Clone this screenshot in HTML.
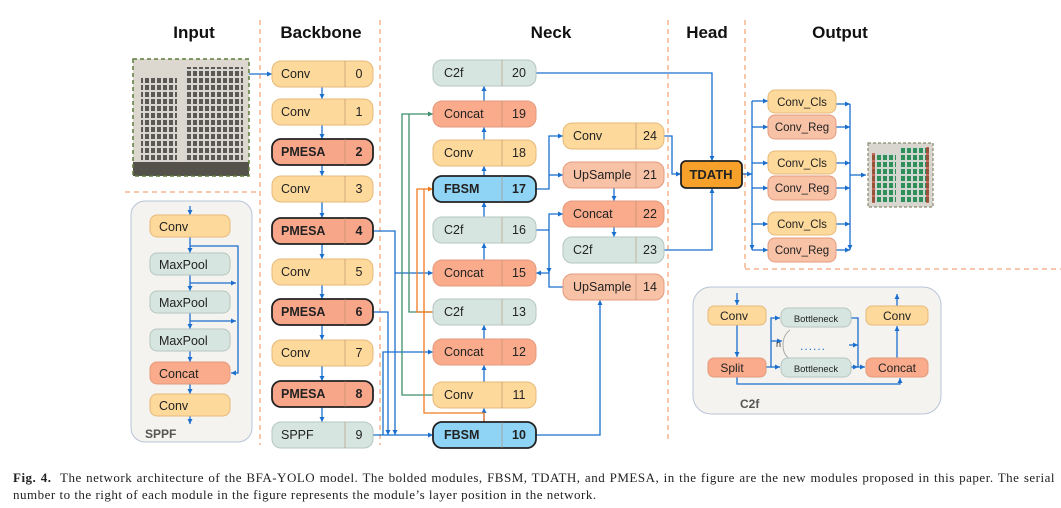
<!DOCTYPE html>
<html><head><meta charset="utf-8"><style>
body{margin:0;background:#fff;width:1061px;height:508px;overflow:hidden;position:relative}
svg{position:absolute;left:0;top:0}
.cap{position:absolute;left:13px;width:1042px;font-family:"Liberation Serif",serif;font-size:13px;letter-spacing:0.5px;line-height:17px;color:#222;white-space:nowrap}
.l1{top:469px;text-align:justify;text-align-last:justify}
.l2{top:486px}
</style></head><body>
<svg width="1061" height="508" viewBox="0 0 1061 508" font-family="Liberation Sans, DejaVu Sans, sans-serif">
<defs>
<marker id="a" markerWidth="6" markerHeight="6" refX="5" refY="3" orient="auto" markerUnits="userSpaceOnUse"><path d="M0,0.5 L5,3 L0,5.5z" fill="#1a6fce"/></marker>
<marker id="g" markerWidth="6" markerHeight="6" refX="5" refY="3" orient="auto" markerUnits="userSpaceOnUse"><path d="M0,0.5 L5,3 L0,5.5z" fill="#3f8f6a"/></marker>
<marker id="o" markerWidth="6" markerHeight="6" refX="5" refY="3" orient="auto" markerUnits="userSpaceOnUse"><path d="M0,0.5 L5,3 L0,5.5z" fill="#f07a1f"/></marker>
<pattern id="bld" width="6" height="7" patternUnits="userSpaceOnUse"><rect width="6" height="7" fill="#d8d6d2"/><rect x="1" y="1" width="4" height="5" fill="#5e5853"/></pattern>
<pattern id="bldr" width="6" height="7" patternUnits="userSpaceOnUse"><rect width="6" height="7" fill="#d0d6d0"/><rect x="1" y="1" width="4" height="5" fill="#2f8f5a"/></pattern>
</defs>
<g font-size="17" font-weight="bold" fill="#111" text-anchor="middle">
<text x="194" y="38">Input</text><text x="321" y="38">Backbone</text><text x="551" y="38">Neck</text><text x="707" y="38">Head</text><text x="840" y="38">Output</text></g>
<g stroke="#f5a77a" stroke-width="1.3" stroke-dasharray="5,4" fill="none">
<line x1="260" y1="20" x2="260" y2="445"/><line x1="380" y1="20" x2="380" y2="445"/>
<line x1="668" y1="20" x2="668" y2="440"/><line x1="745" y1="20" x2="745" y2="269"/>
<line x1="125" y1="192" x2="258" y2="192"/><line x1="745" y1="269" x2="1061" y2="269"/></g>
<!-- input image -->
<rect x="133" y="59" width="116" height="117" fill="#dcd8d0"/>
<rect x="141" y="77" width="36" height="99" fill="url(#bld)"/>
<rect x="185" y="67" width="58" height="109" fill="url(#bld)"/>
<rect x="133" y="162" width="116" height="14" fill="#55524c"/>
<rect x="133" y="59" width="116" height="117" fill="none" stroke="#5f7d3a" stroke-width="1.5" stroke-dasharray="4,3"/>
<!-- output image -->
<rect x="868" y="143" width="65" height="64" fill="#d9d6cf"/>
<rect x="872" y="153" width="24" height="50" fill="url(#bldr)"/>
<rect x="899" y="147" width="30" height="56" fill="url(#bldr)"/>
<rect x="872" y="153" width="3" height="50" fill="#c0392b" opacity="0.7"/><rect x="926" y="147" width="3" height="56" fill="#c0392b" opacity="0.7"/>
<rect x="868" y="143" width="65" height="64" fill="none" stroke="#8a8a70" stroke-width="1.2" stroke-dasharray="3,2"/>
<rect x="131" y="201" width="121" height="241" rx="14" fill="#f5f3ef" stroke="#b8c4d8"/>
<rect x="693" y="287" width="248" height="127" rx="18" fill="#f5f3ef" stroke="#b8c4d8"/>
<text x="145" y="438" font-size="12" font-weight="bold" fill="#555">SPPF</text>
<text x="740" y="408" font-size="12" font-weight="bold" fill="#555">C2f</text>

<g stroke="#1a6fce" stroke-width="1.3" fill="none" marker-end="url(#a)">
<line x1="249" y1="74" x2="272" y2="74"/>
<line x1="322" y1="87" x2="322" y2="99"/><line x1="322" y1="125" x2="322" y2="139"/><line x1="322" y1="165" x2="322" y2="176"/><line x1="322" y1="202" x2="322" y2="218"/><line x1="322" y1="244" x2="322" y2="259"/><line x1="322" y1="285" x2="322" y2="299"/><line x1="322" y1="325" x2="322" y2="340"/><line x1="322" y1="366" x2="322" y2="381"/><line x1="322" y1="407" x2="322" y2="422"/>
<polyline points="373,435 433,435"/>
<polyline points="373,231 395,231 395,273 433,273"/>
<polyline points="373,312 388,312 388,435" marker-end=""/>
<polyline points="395,273 395,435" marker-end=""/>
<polyline points="383,435 383,352 433,352"/>
<line x1="484" y1="422" x2="484" y2="408"/><line x1="484" y1="382" x2="484" y2="365"/><line x1="484" y1="339" x2="484" y2="325"/>
<line x1="484" y1="260" x2="484" y2="243"/><line x1="484" y1="217" x2="484" y2="202"/><line x1="484" y1="176" x2="484" y2="166"/><line x1="484" y1="140" x2="484" y2="127"/><line x1="484" y1="101" x2="484" y2="86"/>
<polyline points="536,189 549,189 549,136 563,136"/>
<polyline points="549,175 563,175"/>
<line x1="614" y1="188" x2="614" y2="201"/><line x1="614" y1="227" x2="614" y2="237"/>
<polyline points="536,230 549,230 549,214 563,214"/>
<polyline points="563,287 549,287 549,273 536,273"/>
<polyline points="549,230 549,273" marker-end=""/>
<polyline points="536,435 600,435 600,300"/>
<polyline points="536,73 712,73 712,161"/>
<polyline points="664,136 672,136 672,174 681,174"/>
<polyline points="664,250 712,250 712,188"/>
<polyline points="742,174 752,174" marker-end=""/>
<line x1="752" y1="101" x2="752" y2="250" marker-end=""/>
<line x1="752" y1="101" x2="768" y2="101"/><line x1="752" y1="127" x2="768" y2="127"/><line x1="752" y1="163" x2="768" y2="163"/><line x1="752" y1="188" x2="768" y2="188"/><line x1="752" y1="224" x2="768" y2="224"/><line x1="752" y1="250" x2="768" y2="250"/>
<g marker-end=""><line x1="836" y1="104" x2="850" y2="104"/><line x1="836" y1="127" x2="850" y2="127"/><line x1="836" y1="163" x2="850" y2="163"/><line x1="836" y1="188" x2="850" y2="188"/><line x1="836" y1="224" x2="850" y2="224"/><line x1="836" y1="250" x2="850" y2="250"/><line x1="850" y1="104" x2="850" y2="250"/></g>
<line x1="850" y1="175" x2="866" y2="175"/>
<line x1="190" y1="206" x2="190" y2="215"/><line x1="190" y1="237" x2="190" y2="253"/><line x1="190" y1="275" x2="190" y2="291"/><line x1="190" y1="313" x2="190" y2="329"/><line x1="190" y1="351" x2="190" y2="362"/><line x1="190" y1="384" x2="190" y2="394"/><line x1="190" y1="416" x2="190" y2="424"/>
<polyline points="190,246 238,246 238,373 231,373"/>
<line x1="190" y1="283" x2="236" y2="283"/><line x1="190" y1="321" x2="236" y2="321"/>
<line x1="737" y1="293" x2="737" y2="305"/><line x1="737" y1="325" x2="737" y2="357"/>
<polyline points="737,377 737,384 900,384 900,378"/>
<line x1="897" y1="358" x2="897" y2="326"/><line x1="897" y1="306" x2="897" y2="294"/>
<polyline points="766,367 771,367 771,318 780,318"/><line x1="771" y1="367" x2="780" y2="367"/><line x1="771" y1="341" x2="782" y2="341"/>
<polyline points="851,318 858,318 858,367 865,367"/><line x1="851" y1="367" x2="858" y2="367" marker-end=""/><line x1="849" y1="345" x2="858" y2="345" marker-end=""/>
</g>
<path d="M790,330 Q783,335 783,345 Q783,355 790,359" stroke="#aaa" fill="none"/>
<text x="776" y="347" font-size="9" fill="#333">n</text>
<text x="800" y="350" font-size="12" fill="#1a6fce" letter-spacing="1">......</text>
<g stroke="#3f8f6a" stroke-width="1.3" fill="none">
<polyline points="433,395 402,395 402,114 433,114" marker-end="url(#g)"/>
<polyline points="433,312 409,312 409,114"/>
</g>
<g stroke="#f07a1f" stroke-width="1.3" fill="none">
<polyline points="433,312 417,312 417,189 433,189" marker-end="url(#o)"/>
<polyline points="484,422 484,413 424,413 424,189"/>
</g>

<g font-size="12.5" fill="#222">
<g stroke="#e6b97a" stroke-width="1">
<rect x="272" y="61" width="101" height="26" rx="9" fill="#fdd99b"/><rect x="272" y="99" width="101" height="26" rx="9" fill="#fdd99b"/><rect x="272" y="176" width="101" height="26" rx="9" fill="#fdd99b"/><rect x="272" y="259" width="101" height="26" rx="9" fill="#fdd99b"/><rect x="272" y="340" width="101" height="26" rx="9" fill="#fdd99b"/>
<rect x="433" y="140" width="103" height="26" rx="9" fill="#fdd99b"/><rect x="433" y="382" width="103" height="26" rx="9" fill="#fdd99b"/><rect x="563" y="123" width="101" height="26" rx="9" fill="#fdd99b"/>
<rect x="768" y="90" width="68" height="23" rx="7" fill="#fdd99b"/><rect x="768" y="151" width="68" height="23" rx="7" fill="#fdd99b"/><rect x="768" y="212" width="68" height="23" rx="7" fill="#fdd99b"/>
<rect x="150" y="215" width="80" height="22" rx="7" fill="#fdd99b"/><rect x="150" y="394" width="80" height="22" rx="7" fill="#fdd99b"/>
<rect x="708" y="306" width="58" height="19" rx="6" fill="#fdd99b"/><rect x="866" y="306" width="62" height="19" rx="6" fill="#fdd99b"/>
</g>
<g stroke="#222" stroke-width="1.8">
<rect x="272" y="139" width="101" height="26" rx="9" fill="#f8a68a"/><rect x="272" y="218" width="101" height="26" rx="9" fill="#f8a68a"/><rect x="272" y="299" width="101" height="26" rx="9" fill="#f8a68a"/><rect x="272" y="381" width="101" height="26" rx="9" fill="#f8a68a"/>
<rect x="433" y="176" width="103" height="26" rx="9" fill="#8fd3f5"/><rect x="433" y="422" width="103" height="26" rx="9" fill="#8fd3f5"/>
<rect x="681" y="161" width="61" height="27" rx="5" fill="#f7a12b"/>
</g>
<g stroke="#b5c6c0" stroke-width="1">
<rect x="272" y="422" width="101" height="26" rx="9" fill="#d6e5e0"/>
<rect x="433" y="60" width="103" height="26" rx="9" fill="#d6e5e0"/><rect x="433" y="217" width="103" height="26" rx="9" fill="#d6e5e0"/><rect x="433" y="299" width="103" height="26" rx="9" fill="#d6e5e0"/>
<rect x="563" y="237" width="101" height="26" rx="9" fill="#d6e5e0"/>
<rect x="150" y="253" width="80" height="22" rx="7" fill="#d6e5e0"/><rect x="150" y="291" width="80" height="22" rx="7" fill="#d6e5e0"/><rect x="150" y="329" width="80" height="22" rx="7" fill="#d6e5e0"/>
<rect x="781" y="308" width="70" height="19" rx="7" fill="#d6e5e0"/><rect x="781" y="358" width="70" height="19" rx="7" fill="#d6e5e0"/>
</g>
<g stroke="#e49a7c" stroke-width="1">
<rect x="433" y="101" width="103" height="26" rx="9" fill="#f9ab8c"/><rect x="433" y="260" width="103" height="26" rx="9" fill="#f9ab8c"/><rect x="433" y="339" width="103" height="26" rx="9" fill="#f9ab8c"/>
<rect x="563" y="201" width="101" height="26" rx="9" fill="#f9ab8c"/>
<rect x="563" y="162" width="101" height="26" rx="9" fill="#f8c2a6"/><rect x="563" y="274" width="101" height="26" rx="9" fill="#f8c2a6"/>
<rect x="768" y="115" width="68" height="24" rx="7" fill="#f8c2a6"/><rect x="768" y="176" width="68" height="24" rx="7" fill="#f8c2a6"/><rect x="768" y="238" width="68" height="24" rx="7" fill="#f8c2a6"/>
<rect x="150" y="362" width="80" height="22" rx="7" fill="#f9ab8c"/>
<rect x="708" y="358" width="58" height="19" rx="6" fill="#f9ab8c"/><rect x="866" y="358" width="62" height="19" rx="6" fill="#f9ab8c"/>
</g>
<g stroke="#b08a6a" stroke-width="0.8" opacity="0.7">
<line x1="345" y1="61" x2="345" y2="87"/><line x1="345" y1="99" x2="345" y2="125"/><line x1="345" y1="139" x2="345" y2="165"/><line x1="345" y1="176" x2="345" y2="202"/><line x1="345" y1="218" x2="345" y2="244"/><line x1="345" y1="259" x2="345" y2="285"/><line x1="345" y1="299" x2="345" y2="325"/><line x1="345" y1="340" x2="345" y2="366"/><line x1="345" y1="381" x2="345" y2="407"/><line x1="345" y1="422" x2="345" y2="448"/>
<line x1="502" y1="60" x2="502" y2="86"/><line x1="502" y1="101" x2="502" y2="127"/><line x1="502" y1="140" x2="502" y2="166"/><line x1="502" y1="176" x2="502" y2="202"/><line x1="502" y1="217" x2="502" y2="243"/><line x1="502" y1="260" x2="502" y2="286"/><line x1="502" y1="299" x2="502" y2="325"/><line x1="502" y1="339" x2="502" y2="365"/><line x1="502" y1="382" x2="502" y2="408"/><line x1="502" y1="422" x2="502" y2="448"/>
<line x1="636" y1="123" x2="636" y2="149"/><line x1="636" y1="162" x2="636" y2="188"/><line x1="636" y1="201" x2="636" y2="227"/><line x1="636" y1="237" x2="636" y2="263"/><line x1="636" y1="274" x2="636" y2="300"/>
</g>
<g>
<text x="281" y="78">Conv</text><text x="281" y="116">Conv</text><text x="281" y="193">Conv</text><text x="281" y="276">Conv</text><text x="281" y="357">Conv</text><text x="281" y="439">SPPF</text>
<text x="281" y="156" font-weight="bold">PMESA</text><text x="281" y="235" font-weight="bold">PMESA</text><text x="281" y="316" font-weight="bold">PMESA</text><text x="281" y="398" font-weight="bold">PMESA</text>
</g>
<g text-anchor="middle">
<text x="359" y="78">0</text><text x="359" y="116">1</text><text x="359" y="156" font-weight="bold">2</text><text x="359" y="193">3</text><text x="359" y="235" font-weight="bold">4</text><text x="359" y="276">5</text><text x="359" y="316" font-weight="bold">6</text><text x="359" y="357">7</text><text x="359" y="398" font-weight="bold">8</text><text x="359" y="439">9</text>
<text x="519" y="77">20</text><text x="519" y="118">19</text><text x="519" y="157">18</text><text x="519" y="193" font-weight="bold">17</text><text x="519" y="234">16</text><text x="519" y="277">15</text><text x="519" y="316">13</text><text x="519" y="356">12</text><text x="519" y="399">11</text><text x="519" y="439" font-weight="bold">10</text>
<text x="650" y="140">24</text><text x="650" y="179">21</text><text x="650" y="218">22</text><text x="650" y="254">23</text><text x="650" y="291">14</text>
</g>
<g>
<text x="444" y="77">C2f</text><text x="444" y="118">Concat</text><text x="444" y="157">Conv</text><text x="444" y="193" font-weight="bold">FBSM</text><text x="444" y="234">C2f</text><text x="444" y="277">Concat</text><text x="444" y="316">C2f</text><text x="444" y="356">Concat</text><text x="444" y="399">Conv</text><text x="444" y="439" font-weight="bold">FBSM</text>
<text x="573" y="140">Conv</text><text x="573" y="179">UpSample</text><text x="573" y="218">Concat</text><text x="573" y="254">C2f</text><text x="573" y="291">UpSample</text>
<text x="159" y="231">Conv</text><text x="159" y="269">MaxPool</text><text x="159" y="307">MaxPool</text><text x="159" y="345">MaxPool</text><text x="159" y="378">Concat</text><text x="159" y="410">Conv</text>
</g>
<text x="711" y="179" font-weight="bold" text-anchor="middle" font-size="13">TDATH</text>
<g text-anchor="middle" font-size="11.5">
<text x="802" y="106">Conv_Cls</text><text x="802" y="131">Conv_Reg</text><text x="802" y="167">Conv_Cls</text><text x="802" y="192">Conv_Reg</text><text x="802" y="228">Conv_Cls</text><text x="802" y="254">Conv_Reg</text>
<text x="734" y="320" font-size="12">Conv</text><text x="732" y="372" font-size="12">Split</text><text x="897" y="320" font-size="12">Conv</text><text x="897" y="372" font-size="12">Concat</text>
<text x="816" y="322" font-size="9.5">Bottleneck</text><text x="816" y="372" font-size="9.5">Bottleneck</text>
</g>
</g>
</svg>
<div class="cap l1"><b>Fig. 4.</b>&nbsp; The network architecture of the BFA-YOLO model. The bolded modules, FBSM, TDATH, and PMESA, in the figure are the new modules proposed in this paper. The serial</div>
<div class="cap l2">number to the right of each module in the figure represents the module’s layer position in the network.</div>
</body></html>
